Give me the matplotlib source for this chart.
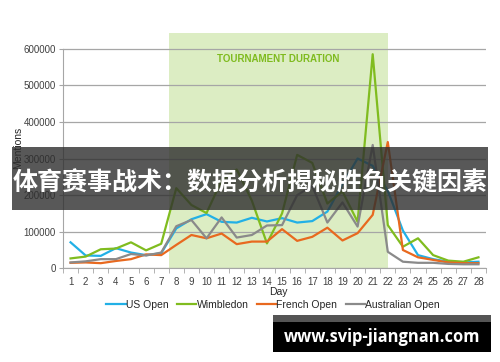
import matplotlib
matplotlib.use("Agg")
import matplotlib.pyplot as plt
import matplotlib.patches as mpatches
from matplotlib.ticker import MultipleLocator, FixedLocator

days = list(range(1, 29))
us_open = [71, 35, 34, 55, 43, 36, 41, 109, 134, 148, 127, 125, 138, 128, 137,
           125, 129, 155, 230, 300, 280, 212, 103, 36, 25, 18, 16, 18]
wimbledon = [27, 32, 52, 54, 71, 49, 67, 219, 173, 151, 240, 270, 185, 68, 150,
             310, 288, 177, 210, 127, 585, 118, 59, 82, 36, 21, 18, 30]
french_open = [15, 16, 14, 20, 25, 38, 36, 64, 91, 82, 95, 66, 73, 73, 107,
               75, 86, 111, 76, 96, 146, 345, 50, 30, 23, 16, 14, 14]
australian_open = [16, 19, 25, 25, 39, 35, 43, 115, 132, 82, 139, 84, 91, 117, 118,
                   200, 225, 125, 180, 114, 337, 45, 18, 15, 15, 12, 11, 11]
series_names = ["US Open", "Wimbledon", "French Open", "Australian Open"]
colors = ["#22b0e6", "#80bc1f", "#e8691f", "#8a8a8a"]
tournament = (7.5, 22)
banner_title = "体育赛事战术：数据分析揭秘胜负关键因素"
watermark = "www.svip-jiangnan.com"

plt.rcParams["font.family"] = ["Liberation Sans", "DejaVu Sans"]

W, H = 500, 362
fig = plt.figure(figsize=(W / 100, H / 100), dpi=100)


def fx(x):
    return x / W


def fy(y):
    return 1 - y / H


ax = fig.add_axes([fx(63), fy(268.3), fx(486) - fx(63), fy(33) - fy(268.3)])
ax.axvspan(*tournament, color="#dcedc3", zorder=0, lw=0)
ax.text(sum(tournament) / 2, 571000, "TOURNAMENT DURATION", color="#7fbb1f",
        fontsize=7, fontweight="bold", ha="center", va="center")

for vals, name, c in zip([us_open, wimbledon, french_open, australian_open], series_names, colors):
    ax.plot(days, [v * 1000 for v in vals], color=c, lw=1.6, label=name, zorder=3)

ax.set_xlim(0.5, 28.5)
ax.set_ylim(0, 643000)
ax.yaxis.set_major_locator(FixedLocator([0, 100000, 200000, 300000, 400000, 500000, 600000]))
ax.yaxis.set_major_formatter(lambda v, p: f"{int(v)}")
ax.grid(axis="y", color="#a6a6a6", lw=0.9, zorder=1)
ax.set_axisbelow(True)
ax.xaxis.set_major_locator(MultipleLocator(1))
ax.xaxis.set_minor_locator(MultipleLocator(1, offset=0.5))
ax.tick_params(axis="x", which="major", length=0, labelsize=7, labelcolor="#404040", pad=6)
ax.tick_params(axis="x", which="minor", length=3.5, color="#a6a6a6", direction="out")
ax.tick_params(axis="y", length=3, color="#a6a6a6", labelsize=7, labelcolor="#404040", pad=2)
for s in ["top", "right"]:
    ax.spines[s].set_visible(False)
ax.spines["left"].set_color("#a6a6a6")
ax.spines["left"].set_bounds(0, 600000)
ax.spines["bottom"].set_color("#a6a6a6")
ax.set_facecolor("none")

fig.text(fx(278), fy(292), "Day", fontsize=7.5, color="#262626", ha="center", va="center")
fig.text(fx(18), fy(148), "Mentions", fontsize=7.5, color="#262626", ha="center", va="center",
         rotation=90)

ax.legend(loc="center", bbox_to_anchor=(fx(273), fy(305)), bbox_transform=fig.transFigure,
          ncol=4, frameon=False, fontsize=7.5, handlelength=1.9, handletextpad=0.0,
          columnspacing=0.8, labelcolor="#262626")

# dark banner with title
fig.add_artist(mpatches.Rectangle((fx(12), fy(210)), fx(488) - fx(12), fy(147) - fy(210),
                                  transform=fig.transFigure, facecolor="#2e2e2e", alpha=0.8,
                                  lw=0, zorder=5))
fig.text(fx(250), fy(183), banner_title, color="white", fontsize=18, fontweight="bold",
         family=["Noto Sans CJK SC", "DejaVu Sans"], ha="center", va="center", zorder=6)

# watermark box
fig.add_artist(mpatches.Rectangle((fx(273), fy(322)), fx(491) - fx(273), fy(315) - fy(322),
                                  transform=fig.transFigure, facecolor="#555555", lw=0, zorder=5))
fig.add_artist(mpatches.Rectangle((fx(273), fy(352)), fx(491) - fx(273), fy(322) - fy(352),
                                  transform=fig.transFigure, facecolor="black", lw=0, zorder=5))
fig.text(fx(382), fy(337), watermark, color="white", fontsize=11.9, fontweight="bold",
         family=["Open Sans", "DejaVu Sans"], ha="center", va="center", zorder=6)

fig.savefig("out.png", dpi=100)
